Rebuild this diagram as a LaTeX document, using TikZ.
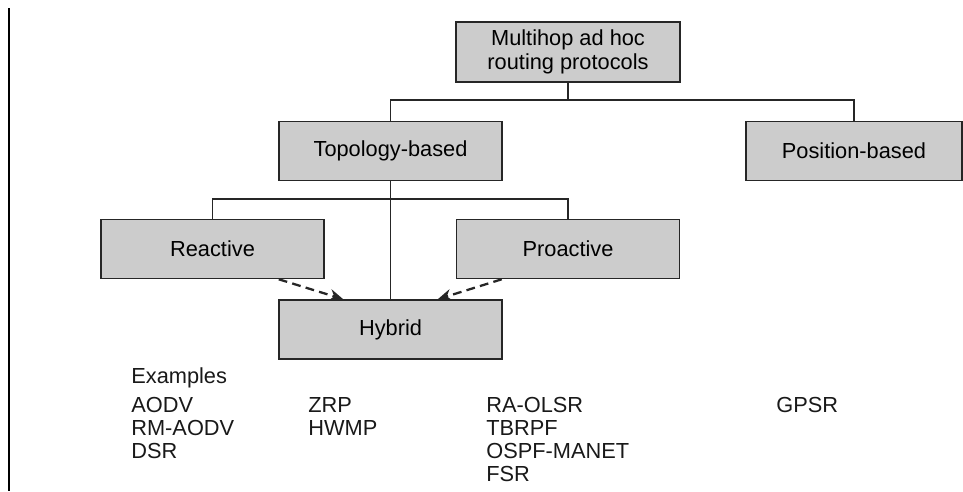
\documentclass[tikz,border=0pt]{standalone}
\usepackage{fontspec}
\setmainfont{Liberation Sans}
\usetikzlibrary{arrows.meta}

\begin{document}
\begin{tikzpicture}[x=0.02cm, y=-0.02cm,
  font=\fontsize{12.4}{13.6}\selectfont,
  protobox/.style={draw=black!85, line width=0.9pt, fill=black!20, minimum width=4.46cm,
    minimum height=1.18cm, inner sep=0pt, align=center},
  link/.style={draw=black!85, line width=0.9pt},
  hyb/.style={draw=black!85, line width=1.3pt, dash pattern=on 5pt off 3pt,
    -{Stealth[length=2.8mm, width=2.4mm]}},
  exlbl/.style={anchor=base west, inner sep=0pt, text=black!90}]
  \useasboundingbox (0,0) rectangle (963,491);
  \draw[line width=1pt] (9,8) -- (9,491);
  % class boxes
  \node[protobox, minimum width=4.48cm, minimum height=1.2cm] (root) at (568,52) {Multihop ad hoc\\routing protocols};
  \node[protobox] (topo)   at (390.5,151) {Topology-based};
  \node[protobox, minimum width=4.32cm] (pos) at (854,151) {Position-based};
  \node[protobox] (react)  at (212.5,249) {Reactive};
  \node[protobox] (proact) at (568,249) {Proactive};
  \node[protobox] (hybrid) at (390.5,329.5) {Hybrid};
  % tree links
  \coordinate (bus1) at (568,100);
  \coordinate (bus2) at (390.5,199);
  \draw[link] (root.south) -- (bus1);
  \draw[link] (topo.north) |- (bus1) -| (pos.north);
  \draw[link] (react.north) |- (bus2) -| (proact.north);
  \draw[link] (topo.south) -- (hybrid.north);
  \draw[hyb] ([xshift=-0.92cm]react.south east) -- ([xshift=1.3cm]hybrid.north west);
  \draw[hyb] ([xshift=0.92cm]proact.south west) -- ([xshift=-1.3cm]hybrid.north east);
  % examples
  \node[exlbl] (extitle) at (131,383) {Examples};
  \foreach \col/\xx/\list in {r/131/{AODV,RM-AODV,DSR}, h/308/{ZRP,HWMP},
      p/486/{RA-OLSR,TBRPF,OSPF-MANET,FSR}, g/776/{GPSR}}{
    \foreach \p [count=\k] in \list {
      \node[exlbl] (ex-\col-\k) at (\xx,{412+(\k-1)*23.3}) {\p};
    }
  }
\end{tikzpicture}
\end{document}
